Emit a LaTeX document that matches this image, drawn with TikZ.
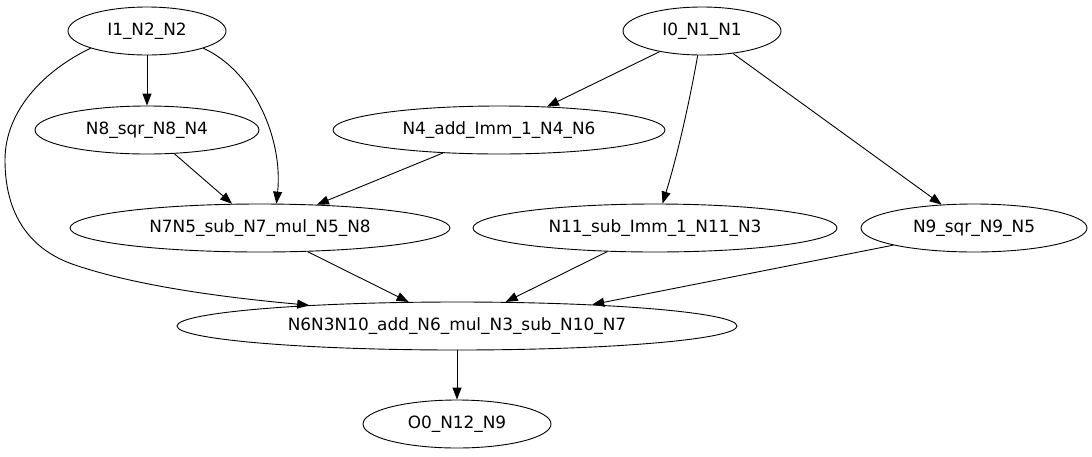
\documentclass[tikz,border=0pt]{standalone}
\usepackage{fontspec}
\setmainfont{DejaVu Sans}
\usetikzlibrary{shapes.geometric,arrows.meta}
\begin{document}
\begin{tikzpicture}[x=1pt,y=-1pt,
  gnode/.style={ellipse,draw,line width=0.9pt,inner sep=0pt,minimum height=48pt,font=\fontsize{16.9}{19}\selectfont},
  edge/.style={draw,line width=0.9pt,-{Triangle[length=12pt,width=9pt]}}]
\useasboundingbox (0,0) rectangle (1092,456);
\node[gnode,minimum width=158pt] (I1) at (147,31) {I1\_N2\_N2};
\node[gnode,minimum width=158pt] (I0) at (702,31) {I0\_N1\_N1};
\node[gnode,minimum width=224pt] (N8) at (147,130) {N8\_sqr\_N8\_N4};
\node[gnode,minimum width=332pt] (N4) at (499,130) {N4\_add\_Imm\_1\_N4\_N6};
\node[gnode,minimum width=380pt] (N7) at (260,228) {N7N5\_sub\_N7\_mul\_N5\_N8};
\node[gnode,minimum width=364pt] (N11) at (655,228) {N11\_sub\_Imm\_1\_N11\_N3};
\node[gnode,minimum width=226pt] (N9) at (974,228) {N9\_sqr\_N9\_N5};
\node[gnode,minimum width=560pt] (N6) at (457,326) {N6N3N10\_add\_N6\_mul\_N3\_sub\_N10\_N7};
\node[gnode,minimum width=188pt] (O0) at (457,424) {O0\_N12\_N9};
\path[edge] (I1) -- (N8);
\path[edge] (I1.-17) .. controls (255,72) and (283,140) .. (N7.56);
\path[edge] (I1.-163) .. controls (45,70) and (5,110) .. (5,160) .. controls (5,215) and (30,250) .. (75,265) .. controls (140,287) and (230,298) .. (N6.172);
\path[edge] (N8) -- (N7);
\path[edge] (N4) -- (N7);
\path[edge] (I0) -- (N4);
\path[edge] (I0) .. controls (688,110) and (676,160) .. (N11);
\path[edge] (I0) -- (N9);
\path[edge] (N7) -- (N6);
\path[edge] (N11) -- (N6);
\path[edge] (N9.-168) -- (N6.9);
\path[edge] (N6) -- (O0);
\end{tikzpicture}
\end{document}
